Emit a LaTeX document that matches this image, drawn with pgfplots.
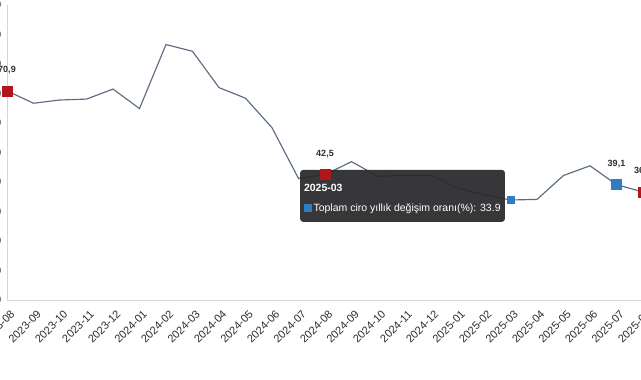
\documentclass[border=0pt]{standalone}
\usepackage{pgfplots}
\usepackage{pgfplotstable}
\pgfplotsset{compat=1.18}
\usepackage{fontspec}
\setmainfont{Liberation Sans}
\definecolor{linec}{RGB}{92,108,126}
\definecolor{redm}{RGB}{176,22,28}
\definecolor{bluem}{RGB}{47,126,193}
\definecolor{axisc}{RGB}{214,214,214}
\definecolor{labc}{RGB}{45,45,45}
\definecolor{tipc}{RGB}{40,40,42}
\pgfplotstableread{
x y
0 70.9
1 66.7
2 67.8
3 68.1
4 71.5
5 64.9
6 86.6
7 84.3
8 72.0
9 68.4
10 58.4
11 41.2
12 42.5
13 46.9
14 41.9
15 42.3
16 42.3
17 38.0
18 35.7
19 33.9
20 34.1
21 42.2
22 45.5
23 39.1
24 36.6
}\data
\begin{document}
\begin{tikzpicture}
\useasboundingbox (0,0) rectangle (641pt,380pt);
\begin{axis}[
  at={(7pt,80pt)}, anchor=south west,
  scale only axis, width=636pt, height=295pt,
  xmin=0, xmax=24, ymin=0, ymax=100,
  enlargelimits=false, clip=false,
  axis lines=left, axis line style={-, draw=axisc, line width=0.8pt},
  xtick={0,...,24},
  xticklabels={2023-08,2023-09,2023-10,2023-11,2023-12,2024-01,2024-02,2024-03,2024-04,2024-05,2024-06,2024-07,2024-08,2024-09,2024-10,2024-11,2024-12,2025-01,2025-02,2025-03,2025-04,2025-05,2025-06,2025-07,2025-08},
  ytick={0,10,...,100},
  tick style={draw=none},
  /pgf/number format/assume math mode=true,
  x tick label style={font=\fontsize{11}{13}\selectfont, text=labc, xshift=8pt, yshift=-8pt, rotate=45, anchor=east},
  y tick label style={font=\fontsize{11}{13}\selectfont, text=labc},
]
\addplot[linec, line width=1.15pt, no marks] table {\data};
\fill[tipc, opacity=0.93, rounded corners=3pt] (axis cs:11.06,44.1) rectangle (axis cs:18.79,26.5);
\node[anchor=west, text=white, inner sep=0pt, font=\bfseries\fontsize{10.5}{12}\selectfont] at (axis cs:11.2,38.0) {2025-03};
\node[anchor=west, text=white, inner sep=0pt, font=\fontsize{10.5}{12}\selectfont] at (axis cs:11.2,30.9) {\textcolor{bluem}{\rule{7.5pt}{7.5pt}}\hspace{2pt}Toplam ciro yıllık değişim oranı(\%): 33.9};
\addplot[only marks, mark=square*, mark size=5pt, color=redm,
  nodes near coords, point meta=explicit symbolic,
  every node near coord/.style={font=\bfseries\fontsize{9}{10}\selectfont, text=labc, anchor=center, inner sep=0pt, yshift=21pt}]
  coordinates {(0,70.9) [70,9] (12,42.5) [42,5] (24,36.6) [36,6]};
\addplot[only marks, mark=square*, mark size=5pt, color=bluem,
  nodes near coords, point meta=explicit symbolic,
  every node near coord/.style={font=\bfseries\fontsize{9}{10}\selectfont, text=labc, anchor=center, inner sep=0pt, yshift=21pt}]
  coordinates {(23,39.1) [39,1]};
\addplot[only marks, mark=square*, mark size=3.5pt, color=bluem] coordinates {(19,33.9)};
\end{axis}
\end{tikzpicture}
\end{document}
